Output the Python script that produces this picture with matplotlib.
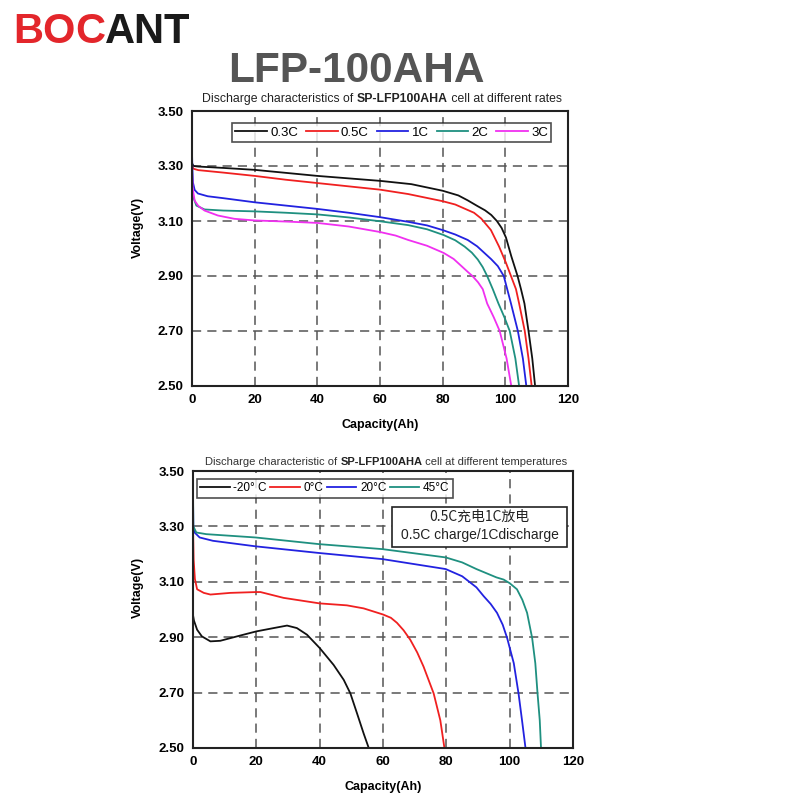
import matplotlib
matplotlib.use("Agg")
import matplotlib.pyplot as plt
from matplotlib.patches import Rectangle

# ---------------- data: discharge at different rates ----------------
rate_labels = ["0.3C", "0.5C", "1C", "2C", "3C"]

cap_03C = [0, 0.5, 2, 10, 20, 30, 40, 50, 60, 70, 80, 85, 88, 91, 93.5, 95.5, 97.3, 98.8, 100.2, 101.9, 103.9, 105, 106.1, 107.4, 108.6, 109.5]
v_03C = [3.31, 3.30, 3.298, 3.293, 3.286, 3.275, 3.264, 3.255, 3.246, 3.234, 3.21, 3.193, 3.175, 3.155, 3.139, 3.122, 3.10, 3.075, 3.04, 2.972, 2.90, 2.852, 2.80, 2.70, 2.60, 2.50]

cap_05C = [0, 0.5, 2, 10, 20, 30, 40, 50, 60, 69, 80, 84, 87, 90, 92.3, 95.4, 98, 100.2, 101.8, 103.4, 104.4, 106.2, 107.4, 108.4]
v_05C = [3.30, 3.29, 3.285, 3.276, 3.264, 3.25, 3.238, 3.226, 3.214, 3.198, 3.172, 3.16, 3.145, 3.13, 3.109, 3.067, 3.007, 2.948, 2.90, 2.852, 2.80, 2.70, 2.60, 2.50]

cap_1C = [0, 0.1, 0.3, 0.85, 1.9, 5, 10, 20, 30, 40, 50, 60, 69, 75, 80, 84, 88, 91, 93.3, 95.5, 97.6, 99.5, 101.8, 104, 105.6, 106.7]
v_1C = [3.35, 3.30, 3.24, 3.213, 3.20, 3.19, 3.183, 3.168, 3.156, 3.144, 3.13, 3.114, 3.097, 3.084, 3.067, 3.051, 3.031, 3.008, 2.984, 2.961, 2.936, 2.90, 2.80, 2.70, 2.60, 2.50]

cap_2C = [0, 0.3, 1.4, 4, 10, 20, 30, 40, 50, 60, 69, 75, 80.3, 84, 87, 89.3, 91.2, 92.8, 94.2, 96, 97.8, 99.7, 101.4, 103.2, 104.4]
v_2C = [3.20, 3.19, 3.156, 3.142, 3.138, 3.135, 3.13, 3.124, 3.113, 3.099, 3.085, 3.07, 3.049, 3.03, 3.007, 2.985, 2.96, 2.932, 2.90, 2.852, 2.80, 2.75, 2.70, 2.60, 2.50]

cap_3C = [0, 0.2, 0.85, 2, 4, 8.25, 13.5, 20, 30, 40, 50, 60, 65, 69, 75, 80.3, 83.5, 86, 88, 89.5, 91.3, 92.8, 94.2, 96.3, 98.2, 100.4, 101.9]
v_3C = [3.29, 3.22, 3.174, 3.155, 3.138, 3.12, 3.108, 3.102, 3.098, 3.093, 3.08, 3.06, 3.047, 3.031, 3.01, 2.984, 2.962, 2.936, 2.915, 2.90, 2.877, 2.852, 2.80, 2.75, 2.70, 2.60, 2.50]

# ---------------- data: discharge at different temperatures ----------------
temp_labels = ["-20° C", "0°C", "20°C", "45°C"]

cap_m20 = [0, 0.3, 1.3, 2.8, 5.5, 8.6, 13.9, 20, 25.5, 29.7, 32.8, 36, 40, 44.4, 47.6, 49.7, 51.8, 53.9, 55.5]
v_m20 = [2.98, 2.96, 2.927, 2.903, 2.885, 2.887, 2.903, 2.921, 2.933, 2.942, 2.933, 2.909, 2.861, 2.80, 2.746, 2.697, 2.625, 2.552, 2.50]

cap_0 = [0, 0.2, 0.6, 1.3, 3.4, 5.5, 11.8, 20, 21.3, 28.6, 40, 48.6, 53.9, 60, 62.5, 64.4, 66.5, 68.6, 70.8, 72.8, 76, 78.1, 79.4]
v_0 = [3.30, 3.18, 3.11, 3.073, 3.06, 3.054, 3.06, 3.063, 3.063, 3.042, 3.022, 3.015, 3.004, 2.982, 2.97, 2.952, 2.925, 2.891, 2.845, 2.794, 2.697, 2.60, 2.50]

cap_20 = [0, 0.1, 0.5, 2.1, 6.3, 19.8, 39.8, 59.8, 79.8, 85, 89.5, 91.8, 94, 96, 97.8, 99.2, 101.3, 102.8, 103.9, 105]
v_20 = [3.41, 3.30, 3.278, 3.26, 3.248, 3.228, 3.204, 3.182, 3.146, 3.12, 3.08, 3.048, 3.02, 2.988, 2.945, 2.897, 2.806, 2.697, 2.60, 2.50]

cap_45 = [0, 0.1, 1.05, 4.2, 19.8, 39.8, 59.8, 79.8, 85, 89.5, 95.8, 98.1, 100, 102.3, 104, 105.5, 107.1, 108.1, 108.8, 109.5, 109.9]
v_45 = [3.43, 3.30, 3.278, 3.272, 3.26, 3.236, 3.218, 3.188, 3.17, 3.146, 3.116, 3.108, 3.095, 3.073, 3.035, 2.988, 2.897, 2.806, 2.697, 2.60, 2.50]

x_ticks = [0, 20, 40, 60, 80, 100, 120]
y_ticks = [2.50, 2.70, 2.90, 3.10, 3.30, 3.50]

FONT = ["Liberation Sans", "DejaVu Sans"]
plt.rcParams["font.family"] = FONT

fig = plt.figure(figsize=(8, 8), dpi=100)


def style_axes(ax):
    ax.set_xlim(0, 120)
    ax.set_ylim(2.5, 3.5)
    ax.set_xticks(x_ticks)
    ax.set_yticks(y_ticks)
    ax.set_xticklabels([str(t) for t in x_ticks], fontweight="bold", fontsize=9.5)
    ax.set_yticklabels(["%.2f" % t for t in y_ticks], fontweight="bold", fontsize=9.5)
    ax.tick_params(length=0, pad=6)
    for s in ax.spines.values():
        s.set_linewidth(1.5)
        s.set_color("#222222")
    for xv in x_ticks[1:-1]:
        ax.axvline(xv, color="#555555", lw=1.1, ls=(0, (6, 4)), zorder=0)
    for yv in y_ticks[1:-1]:
        ax.axhline(yv, color="#555555", lw=1.1, ls=(0, (6, 4)), zorder=0)
    ax.set_xlabel("Capacity(Ah)", fontweight="bold", fontsize=9, labelpad=9)
    ax.set_ylabel("Voltage(V)", fontweight="bold", fontsize=9)
    ax.yaxis.set_label_coords(-0.128, 0.578)


def chain_texts(x_px, y_px, parts, size):
    prev = None
    for txt, w, col in parts:
        if prev is None:
            prev = fig.text(x_px / 800, 1 - y_px / 800, txt, fontsize=size,
                            fontweight=w, ha="left", va="baseline", color=col)
        else:
            prev = fig.get_axes()[0].annotate(
                txt, xy=(1, 0), xycoords=prev, xytext=(0, 0), textcoords="offset points",
                fontsize=size, fontweight=w, ha="left", va="bottom", color=col,
                annotation_clip=False)
    return prev


# ---------------- top chart ----------------
ax1 = fig.add_axes([192 / 800, 1 - 386 / 800, 376 / 800, 275 / 800])
style_axes(ax1)
rate_caps = [cap_03C, cap_05C, cap_1C, cap_2C, cap_3C]
rate_vs = [v_03C, v_05C, v_1C, v_2C, v_3C]
rate_colors = ["#111111", "#f02020", "#2222e0", "#1f9080", "#f030f0"]
for c, v, col, lab in zip(rate_caps, rate_vs, rate_colors, rate_labels):
    ax1.plot(c, v, color=col, lw=1.3, label=lab)
leg1 = ax1.legend(loc="upper left", bbox_to_anchor=(0.106, 0.955), ncol=5,
                  fontsize=9.5, frameon=True, fancybox=False, edgecolor="#222222",
                  handlelength=2.4, handletextpad=0.25, columnspacing=0.6,
                  borderpad=0.25, borderaxespad=0)
leg1.get_frame().set_linewidth(1.2)

# ---------------- bottom chart ----------------
ax2 = fig.add_axes([193 / 800, 1 - 748 / 800, 380 / 800, 277 / 800])
style_axes(ax2)
temp_caps = [cap_m20, cap_0, cap_20, cap_45]
temp_vs = [v_m20, v_0, v_20, v_45]
temp_colors = ["#111111", "#f02020", "#2222e0", "#1f9080"]
for c, v, col, lab in zip(temp_caps, temp_vs, temp_colors, temp_labels):
    ax2.plot(c, v, color=col, lw=1.3, label=lab)
leg2 = ax2.legend(loc="upper left", bbox_to_anchor=(0.01, 0.972), ncol=4,
                  fontsize=8.5, frameon=True, fancybox=False, edgecolor="#222222",
                  handlelength=2.5, handletextpad=0.3, columnspacing=0.3,
                  borderpad=0.3, borderaxespad=0)
leg2.get_frame().set_linewidth(1.2)

ax2.add_patch(Rectangle((62.8, 3.226), 118.1 - 62.8, 3.370 - 3.226, facecolor="white",
                        edgecolor="#222222", lw=1.2, zorder=5))
ax2.text(90.5, 3.334, "0.5C充电1C放电", ha="center", va="center", fontsize=10,
         family=["Noto Sans CJK SC", "DejaVu Sans"], color="#222222", zorder=6)
ax2.text(90.5, 3.269, "0.5C charge/1Cdischarge", ha="center", va="center",
         fontsize=10, family=["Liberation Sans", "DejaVu Sans"], color="#222222", zorder=6)

# ---------------- titles ----------------
chain_texts(202, 102, [("Discharge characteristics of ", "normal", "#222222"),
                       ("SP-LFP100AHA", "bold", "#222222"),
                       (" cell at different rates", "normal", "#222222")], 8.8)
chain_texts(205, 465, [("Discharge characteristic of ", "normal", "#333333"),
                       ("SP-LFP100AHA", "bold", "#222222"),
                       (" cell at different temperatures", "normal", "#333333")], 8.0)

fig.text(356 / 800, 1 - 71 / 800, "LFP-100AHA", ha="center", va="center",
         fontsize=30.5, fontweight="bold", color="#555555",
         family=["Liberation Sans", "DejaVu Sans"])

chain_texts(13, 43, [("BO", "heavy", "#e3262b"), ("C", "heavy", "#e3262b"),
                     ("ANT", "heavy", "#1a1a1a")], 30)

fig.savefig("out.png", dpi=100)
